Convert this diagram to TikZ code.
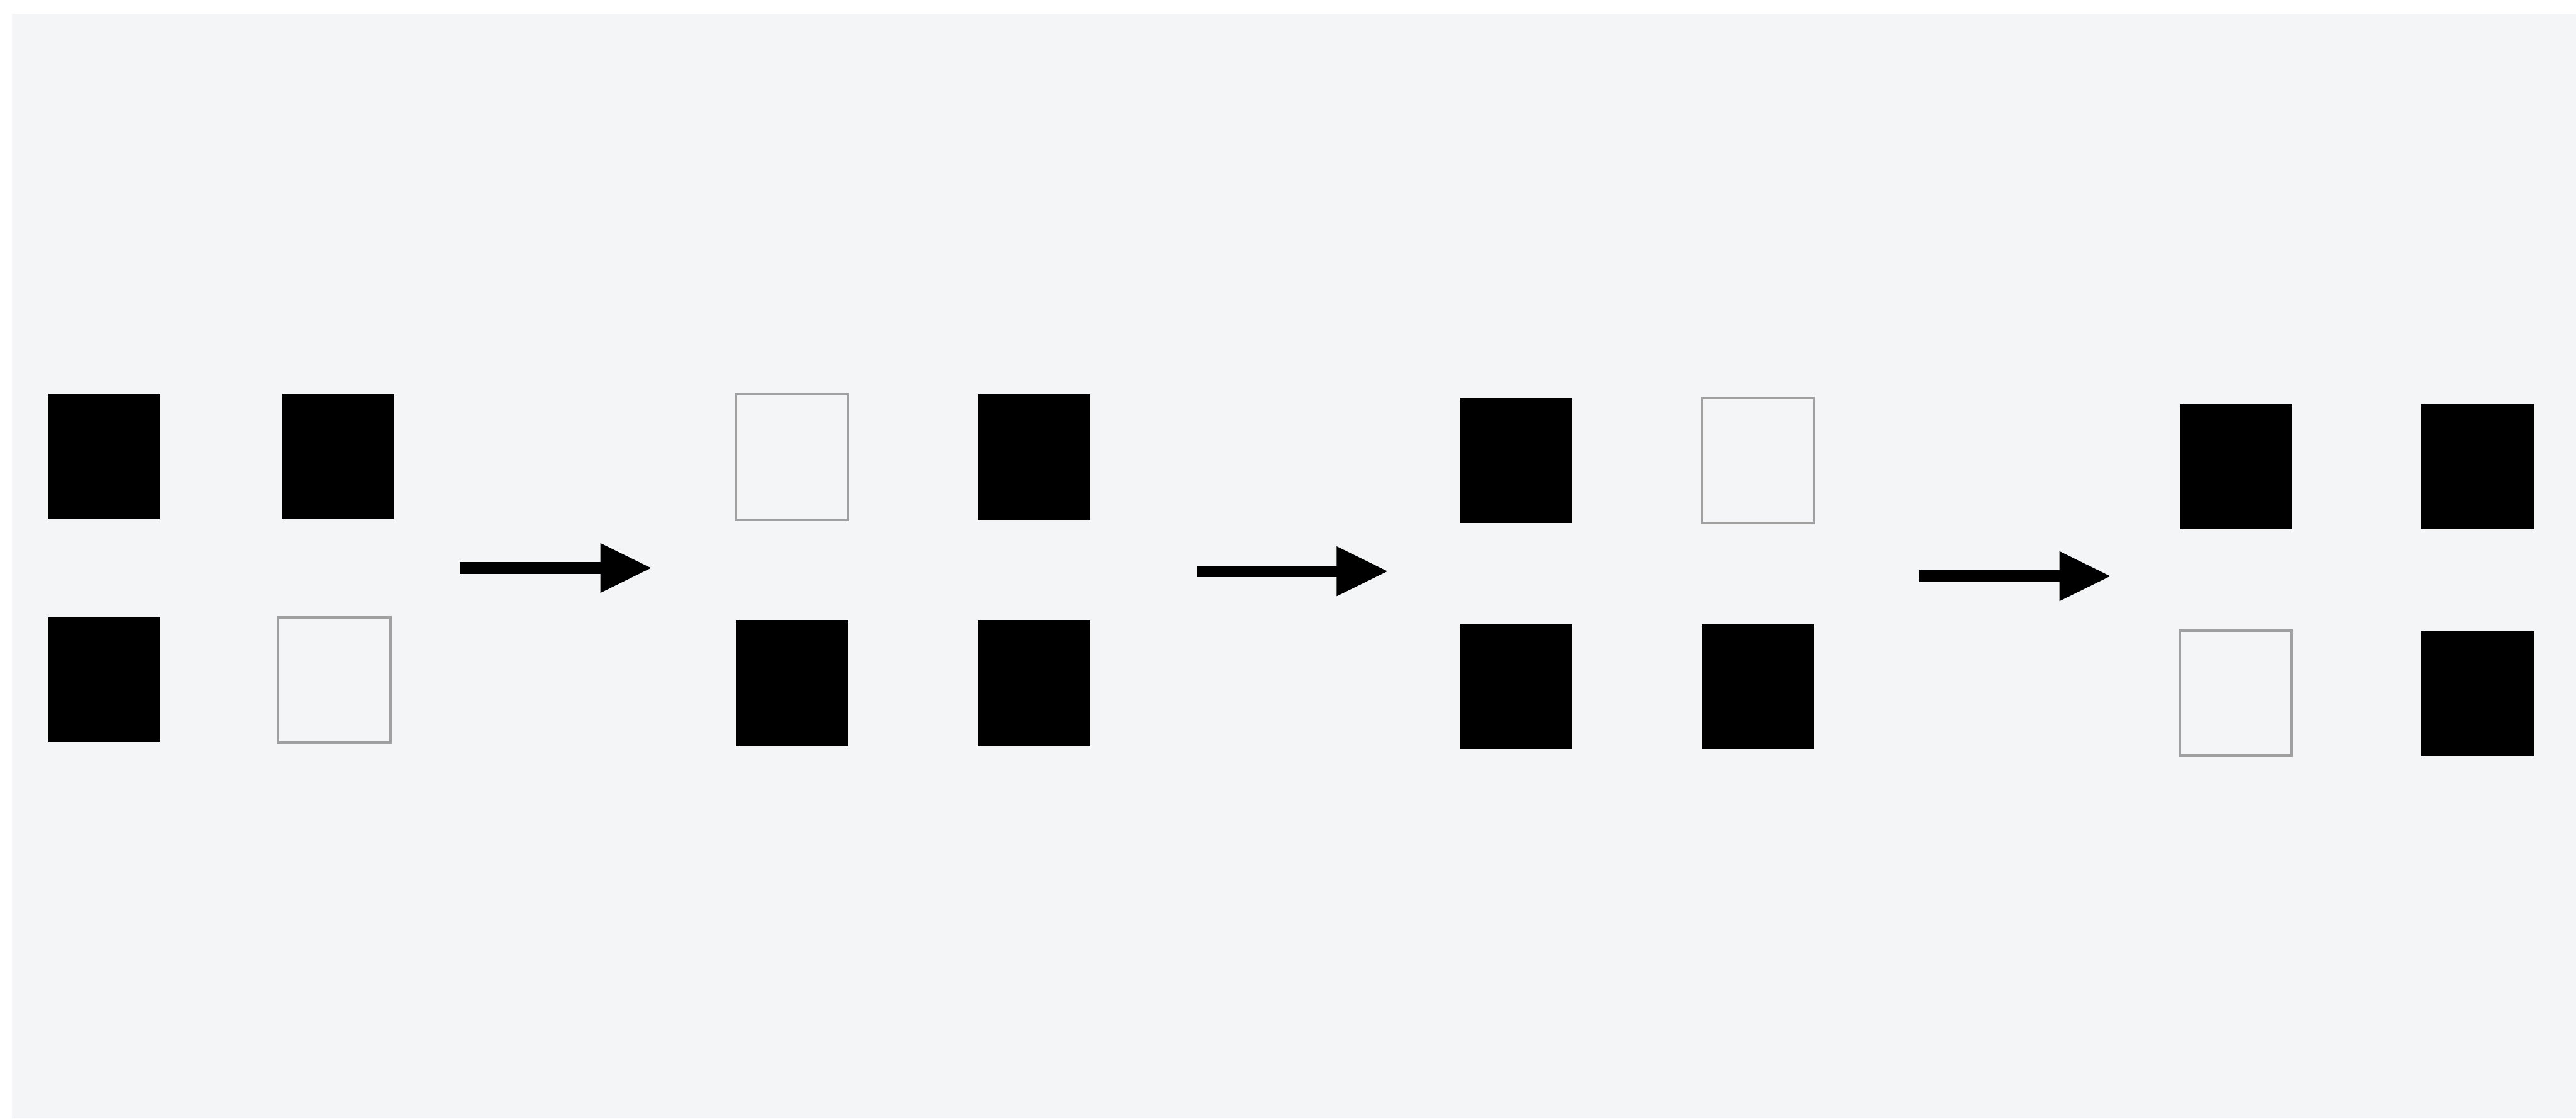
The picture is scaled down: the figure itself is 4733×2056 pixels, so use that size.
\documentclass[tikz,border=0pt]{standalone}
\usetikzlibrary{arrows.meta}
\definecolor{bggray}{HTML}{F4F5F7}
\definecolor{outlinegray}{HTML}{A0A0A0}
\begin{document}
\begin{tikzpicture}[x=0.01cm,y=-0.01cm,
  cell/.style={rectangle,inner sep=0pt,outer sep=0pt,minimum width=2.06cm,minimum height=2.30cm},
  full/.style={cell,fill=black},
  empty/.style={cell,draw=outlinegray,line width=1.3pt},
  stepArrow/.style={line width=6pt,-{Triangle[length=0.95cm,width=0.85cm]}}]
\fill[white] (0,0) rectangle (4733,2056);
\fill[bggray] (22,25) rectangle (4733,2056);
\useasboundingbox (0,0) rectangle (4733,2056);
% group 1
\node[full]  (g1a) at (192,838) {};
\node[full]  (g1b) at (622,838) {};
\node[full]  (g1c) at (192,1250) {};
\node[empty] (g1d) at (614,1250) {};
% group 2
\node[empty] (g2a) at (1455,840) {};
\node[full]  (g2b) at (1900,840) {};
\node[full]  (g2c) at (1455,1256) {};
\node[full]  (g2d) at (1900,1256) {};
% group 3
\node[full]  (g3a) at (2786,846) {};
\node[empty] (g3b) at (3230,846) {};
\node[full]  (g3c) at (2786,1262) {};
\node[full]  (g3d) at (3230,1262) {};
% group 4
\node[full]  (g4a) at (4108,858) {};
\node[full]  (g4b) at (4552,858) {};
\node[empty] (g4c) at (4108,1274) {};
\node[full]  (g4d) at (4552,1274) {};
% arrows
\coordinate (a1s) at (845,1044);
\coordinate (a1e) at (1198,1044);
\coordinate (a2s) at (2200,1050);
\coordinate (a2e) at (2551,1050);
\coordinate (a3s) at (3526,1059);
\coordinate (a3e) at (3879,1059);
\draw[stepArrow] (a1s) -- (a1e);
\draw[stepArrow] (a2s) -- (a2e);
\draw[stepArrow] (a3s) -- (a3e);
\end{tikzpicture}
\end{document}
